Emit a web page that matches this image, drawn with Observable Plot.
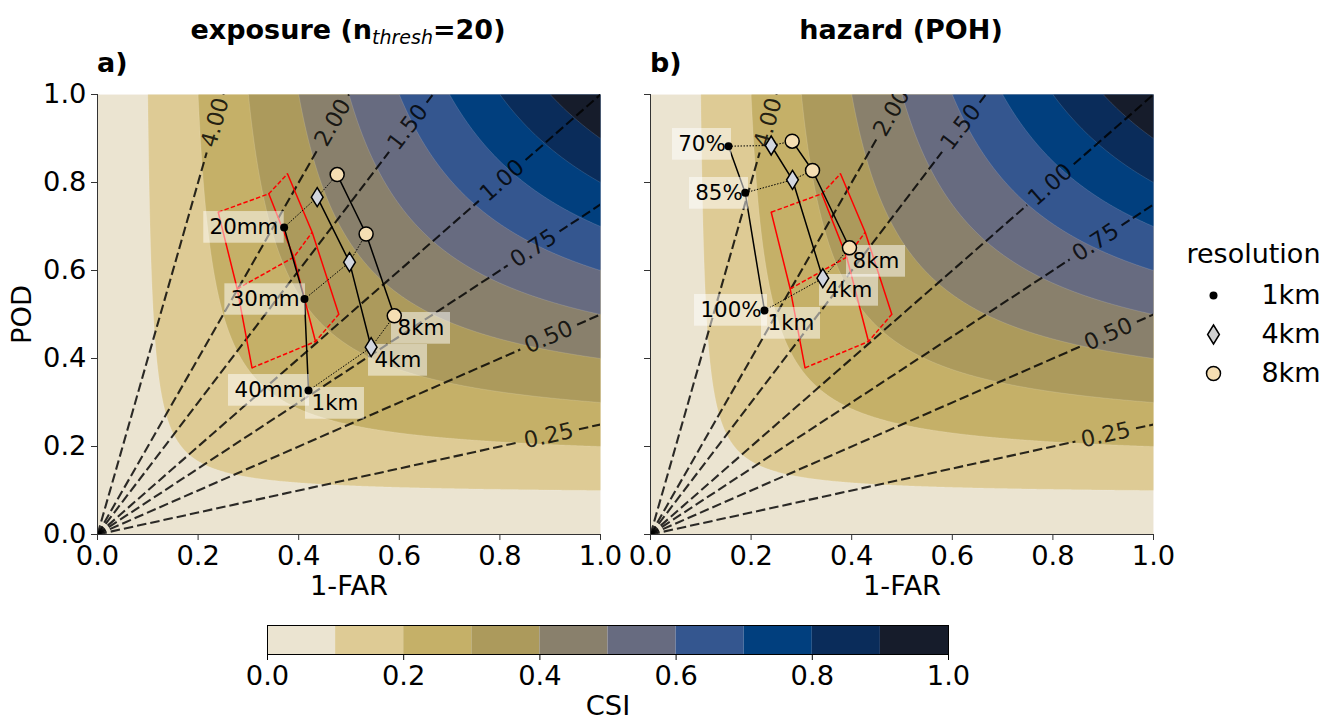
<!DOCTYPE html>
<html><head><meta charset="utf-8">
<script src="https://cdn.jsdelivr.net/npm/d3@7"></script>
<script src="https://cdn.jsdelivr.net/npm/@observablehq/plot@0.6"></script>
<style>
html,body{margin:0;padding:0;background:#fff;width:1324px;height:717px;overflow:hidden;font-family:"DejaVu Sans",sans-serif;color:#000}
#page{position:relative;width:1324px;height:717px}
.slot{position:absolute}
.slot svg{display:block;overflow:visible;background:transparent}
.title{position:absolute;font-weight:bold;font-size:27px;line-height:30px;white-space:nowrap;transform:translateX(-50%)}
.title sub{font-weight:normal;font-style:italic;font-size:19px;line-height:0;vertical-align:-5px}
.tag{position:absolute;font-weight:bold;font-size:27px;line-height:30px}
</style></head><body><div id="page">
<div class="title" style="left:348px;top:15px">exposure (n<sub>thresh</sub>=20)</div>
<div class="title" style="left:901px;top:15px">hazard (POH)</div>
<div class="tag" style="left:97px;top:48px">a)</div>
<div class="tag" style="left:650px;top:48px">b)</div>
</div>
<script>
// CSI colour bands
const csiLevels = [0, .1, .2, .3, .4, .5, .6, .7, .8, .9];
const csiColors = ["#ebe4d1","#decb95","#c5b068","#ac9a5c","#89806c","#676b80","#34568f","#013f7e","#0a2c5a","#161c2b"];
const csiTicks = [0, .2, .4, .6, .8, 1];
const axisTicks = [0, .2, .4, .6, .8, 1];

// frequency-bias lines and the x position of each inline label
const biasValues = [4, 2, 1.5, 1, .75, .5, .25];
const biasLabelXa = [.234, .468, .617, .8046, .867, .897, .897];
const biasLabelXb = [.234, .4795, .617, .795, .885, .9105, .905];

// exposure panel: [1-FAR, POD] per resolution, thresholds 20/30/40 mm
const exp1km = [[.371,.698],[.4115,.535],[.4195,.327]];
const exp4km = [[.4368,.7666],[.501,.619],[.544,.4257]];
const exp8km = [[.4765,.818],[.534,.683],[.590,.497]];

// hazard panel: [1-FAR, POD] per resolution, POH 70/85/100 %
const haz1km = [[.1551,.8825],[.1883,.7766],[.2266,.5091]];
const haz4km = [[.2399,.8841],[.2823,.8061],[.3426,.5825]];
const haz8km = [[.2817,.8939],[.3221,.8273],[.3956,.6516]];

// red reference grid, same in both panels
const red1 = [[.240,.7325],[.2777,.5584],[.3072,.3788]];
const red2 = [[.3405,.7743],[.3902,.6302],[.4334,.4386]];
const red3 = [[.3777,.8197],[.4268,.6870],[.4797,.5005]];

// annotation labels: text, x1, x2, y1, y2
const expLabels = [
  ["20mm",.2113,.3712,.662,.734],["30mm",.2532,.4135,.4984,.5698],["40mm",.2604,.4215,.2916,.3636],
  ["8km",.5845,.7018,.4325,.5045],["4km",.5388,.6561,.3598,.4318],["1km",.4135,.5308,.262,.3341]];
const hazLabels = [
  ["70%",.0437,.161,.8507,.9227],["85%",.0775,.1948,.7393,.8114],["100%",.0875,.2326,.4734,.5455],
  ["8km",.3897,.507,.5848,.6568],["4km",.336,.4533,.5189,.5909],["1km",.2207,.338,.4439,.5159]];

const resolutions = ["1km","4km","8km"];
const thinDiamond = {draw(c, size){const r = Math.sqrt(size/Math.PI), w = r*.62;
  c.moveTo(0,-r); c.lineTo(w,0); c.lineTo(0,r); c.lineTo(-w,0); c.closePath();}};
const wheat = "#f5deb3", diamondFill = "#d2d6de";
const font = {fontFamily:"'DejaVu Sans',sans-serif", fontSize:"27.3px", color:"#000", background:"transparent"};
const csiScale = {type:"threshold", domain:csiLevels.slice(1), range:csiColors};
const csi = (x,y) => (x<=0||y<=0) ? 0 : 1/(1/x+1/y-1);

function place(el, left, top){
  const d = document.createElement("div"); d.className="slot"; d.style.left=left+"px"; d.style.top=top+"px";
  d.append(el); document.getElementById("page").append(d);
}
const series = (name, pts) => pts.map(([x,y],i) => ({name, x, y, i}));
const rad = b => Math.atan(b*440/503);

function panel({p1,p4,p8,labels,labelX,showY,left,width,marginLeft,marginRight}){
  const biasSegs = biasValues.flatMap((b,k) => {
    const end = Math.min(1,1/b), c = labelX[k], half = Math.cos(rad(b))*31/503;
    return [{k:k+"a",x:0,y:0},{k:k+"a",x:c-half,y:b*(c-half)},{k:k+"b",x:c+half,y:b*(c+half)},{k:k+"b",x:end,y:b*end}];
  });
  const biasText = biasValues.map((b,k) => ({t:b.toFixed(2), x:labelX[k], y:b*labelX[k], r:-rad(b)*180/Math.PI}));
  const solid = [...series("r1",red1),...series("r2",red2),...series("r3",red3)];
  const redDash = [0,1,2].flatMap(i => [red1,red2,red3].map((s,j) => ({name:i,x:s[i][0],y:s[i][1],j})));
  const black = [...series("1",p1),...series("4",p4),...series("8",p8)];
  const dotted = [0,1,2].flatMap(i => [p1,p4,p8].map(s => ({name:i,x:s[i][0],y:s[i][1]})));
  const boxes = labels.map(([t,x1,x2,y1,y2]) => ({t,x1,x2,y1,y2}));
  const plot = Plot.plot({
    width, height:134+440-24, marginLeft, marginRight, marginTop:24, marginBottom:86,
    x:{domain:[0,1]}, y:{domain:[0,1]}, color:csiScale, style:font,
    marks:[
      Plot.contour({x1:0,y1:0,x2:1,y2:1,value:csi,fill:"value",thresholds:csiLevels,pixelSize:1,stroke:"#fff",strokeOpacity:.22,strokeWidth:.6}),
      Plot.line(biasSegs,{x:"x",y:"y",z:"k",stroke:"#000",strokeOpacity:.82,strokeWidth:2.1,strokeDasharray:"9.5,4",strokeLinecap:"butt",clip:true}),
      Plot.text(biasText,{x:"x",y:"y",text:"t",rotate:"r",fontSize:22.6,fill:"#000",fillOpacity:.82,clip:true}),
      Plot.line(solid,{x:"x",y:"y",z:"name",stroke:"#f00",strokeWidth:1.5}),
      Plot.line(redDash,{x:"x",y:"y",z:"name",stroke:"#f00",strokeWidth:1.5,strokeDasharray:"4.5,2.2",strokeLinecap:"butt"}),
      Plot.line(black,{x:"x",y:"y",z:"name",stroke:"#000",strokeWidth:1.5}),
      Plot.line(dotted,{x:"x",y:"y",z:"name",stroke:"#000",strokeWidth:1,strokeDasharray:"1.5,1.5",strokeLinecap:"butt"}),
      Plot.rect(boxes,{x1:"x1",x2:"x2",y1:"y1",y2:"y2",fill:"#fff",fillOpacity:.5}),
      Plot.dot(p1,{x:d=>d[0],y:d=>d[1],r:4,fill:"#000"}),
      Plot.dot(p4,{x:d=>d[0],y:d=>d[1],r:9.5,symbol:thinDiamond,fill:diamondFill,stroke:"#000",strokeWidth:1.5}),
      Plot.dot(p8,{x:d=>d[0],y:d=>d[1],r:7,fill:wheat,stroke:"#000",strokeWidth:1.5}),
      Plot.text(boxes,{x:d=>(d.x1+d.x2)/2,y:d=>(d.y1+d.y2)/2,text:"t",fontSize:21.4,fill:"#000"}),
      Plot.axisX({ticks:axisTicks,tickFormat:d3.format(".1f"),tickSize:6,tickPadding:5,label:"1-FAR",labelAnchor:"center",labelArrow:"none",labelOffset:60,stroke:"#333"}),
      Plot.axisY({ticks:axisTicks,tickFormat:showY?d3.format(".1f"):()=>"",tickSize:6,tickPadding:5,label:showY?"POD":null,labelAnchor:"center",labelArrow:"none",labelOffset:marginLeft-11,stroke:"#333"}),
      Plot.ruleX([0],{stroke:"#333",strokeWidth:1}),
      Plot.ruleY([0],{stroke:"#333",strokeWidth:1})
    ]
  });
  place(plot,left,70);
}

panel({p1:exp1km,p4:exp4km,p8:exp8km,labels:expLabels,labelX:biasLabelXa,showY:true,left:0,width:625,marginLeft:97,marginRight:25});
panel({p1:haz1km,p4:haz4km,p8:haz8km,labels:hazLabels,labelX:biasLabelXb,showY:false,left:625,width:555,marginLeft:25,marginRight:27});

// colour bar
const barCells = csiLevels.map(l => ({x1:l,x2:+(l+.1).toFixed(1),v:l}));
place(Plot.plot({
  width:760,height:97,marginLeft:37,marginRight:42,marginTop:5,marginBottom:63,
  x:{domain:[0,1]},y:{domain:[0,1],axis:null},color:csiScale,style:font,
  marks:[
    Plot.rect(barCells,{x1:"x1",x2:"x2",y1:0,y2:1,fill:"v"}),
    Plot.frame({stroke:"#000",strokeWidth:1}),
    Plot.axisX({ticks:csiTicks,tickFormat:d3.format(".1f"),tickSize:6,tickPadding:5,label:"CSI",labelAnchor:"center",labelArrow:"none",labelOffset:60,stroke:"#000"})
  ]
}),230,620);

// legend
place(Plot.plot({
  width:154,height:170,marginTop:64,marginBottom:27,marginLeft:0,marginRight:4,
  x:{axis:null},y:{type:"point",padding:0,domain:resolutions,axis:null},style:font,
  marks:[
    Plot.text(["resolution"],{frameAnchor:"top-right",dy:-51,text:d=>d,fontSize:27,fill:"#000"}),
    Plot.dot(["1km"],{y:d=>d,frameAnchor:"left",dx:43,r:4,fill:"#000"}),
    Plot.dot(["4km"],{y:d=>d,frameAnchor:"left",dx:43,r:9.5,symbol:thinDiamond,fill:"#d0d0d0",stroke:"#000",strokeWidth:1.5}),
    Plot.dot(["8km"],{y:d=>d,frameAnchor:"left",dx:43,r:7,fill:wheat,stroke:"#000",strokeWidth:1.5}),
    Plot.text(resolutions,{y:d=>d,frameAnchor:"right",text:d=>d,fontSize:27,fill:"#000"})
  ]
}),1170,230);
</script></body></html>
